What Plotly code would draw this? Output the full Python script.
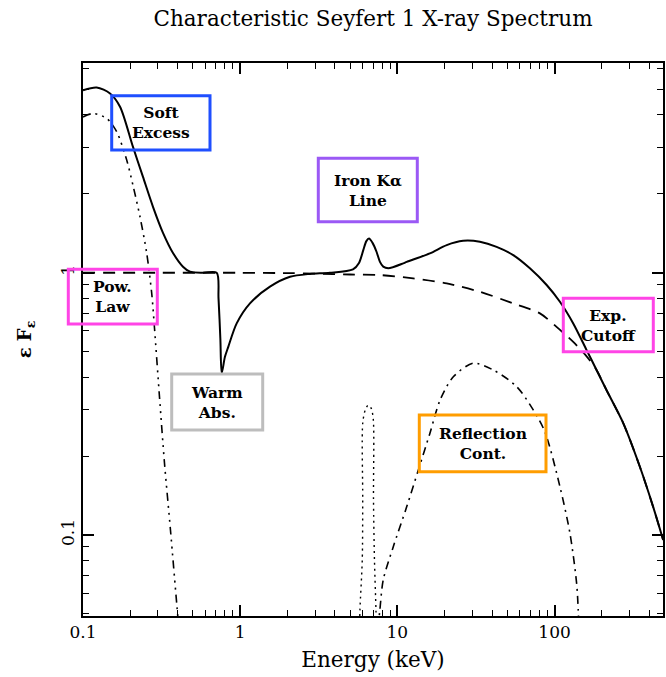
import plotly.graph_objects as go

# ---- Spectral components: energy (keV) vs. eF_e ----
energy_total = [0.1, 0.1222, 0.1486, 0.172, 0.208, 0.2408, 0.2788, 0.3228, 0.3737,
                0.4326, 0.4795, 0.58, 0.7087, 0.728, 0.748, 0.7627, 0.80, 0.84, 0.95,
                1.154, 1.547, 2.075, 2.78, 3.72, 5.22, 5.7, 6.07, 6.35, 6.6, 6.95,
                7.38, 7.75, 8.13, 8.75, 10.9, 11.46, 16.1, 20.6, 26.2, 33.5, 42.8,
                54.6, 69.7, 89.1, 108.2, 131.5, 160, 185, 214, 273.5, 349, 424, 491]
flux_total = [4.97, 5.09, 4.83, 4.30, 3.02, 2.32, 1.785, 1.42, 1.19,
              1.055, 1.01, 1.0, 1.0, 0.80, 0.56, 0.414, 0.478, 0.522, 0.641,
              0.764, 0.885, 0.965, 0.99, 1.0, 1.03, 1.09, 1.22, 1.32, 1.35, 1.3,
              1.2, 1.1, 1.055, 1.04, 1.086, 1.10, 1.186, 1.275, 1.324, 1.313, 1.256,
              1.168, 1.04, 0.898, 0.775, 0.641, 0.507, 0.426, 0.357, 0.267, 0.182, 0.128, 0.0957]

energy_powlaw = [0.1, 0.3, 1, 2, 3, 5, 7.74, 12.6, 20.6, 33.5, 54.6, 80.7, 103, 131.5,
                 160, 185, 214, 273.5, 349, 424, 491]
flux_powlaw = [1.0, 1.0, 1.0, 0.997, 0.993, 0.985, 0.98, 0.952, 0.911, 0.846, 0.764, 0.70,
               0.622, 0.545, 0.48, 0.426, 0.357, 0.267, 0.182, 0.128, 0.0957]

energy_soft = [0.1, 0.1163, 0.1416, 0.1638, 0.1897, 0.2089, 0.2305, 0.2542, 0.2735,
               0.285, 0.3067, 0.3299, 0.3601, 0.3963, 0.408]
flux_soft = [3.93, 4.05, 3.88, 3.45, 2.69, 2.13, 1.635, 1.189, 0.837,
             0.6155, 0.3357, 0.1881, 0.1045, 0.0531, 0.0434]

energy_refl = [7.52, 7.74, 8.13, 9.42, 11.46, 13.6, 16.1, 18.7, 22.7, 30.4, 40.7,
               57.4, 73.2, 86.9, 108.2, 125.3, 138.2, 141.5, 143]
flux_refl = [0.044, 0.0518, 0.0674, 0.0902, 0.128, 0.177, 0.244, 0.327, 0.401, 0.452, 0.426,
             0.368, 0.30, 0.247, 0.153, 0.1015, 0.0654, 0.0518, 0.044]

energy_fe = [5.75, 5.78, 5.98, 6.02, 6.02, 6.25, 6.53, 6.82, 7.03, 7.05, 7.15, 7.31, 7.35]
flux_fe = [0.044, 0.0518, 0.0803, 0.136, 0.267, 0.30, 0.313, 0.304, 0.275, 0.136, 0.0803,
           0.0518, 0.044]

x_tick_vals = [0.1, 1, 10, 100]
x_tick_text = ["0.1", "1", "10", "100"]
y_tick_vals = [0.1, 1]
y_tick_text = ["0.1", "1"]

FONT = "DejaVu Serif"

fig = go.Figure()

def add_line(x, y, dash, width):
    fig.add_trace(go.Scatter(
        x=x, y=y, mode="lines", showlegend=False, hoverinfo="skip",
        line=dict(color="black", width=width, dash=dash, shape="spline", smoothing=0.8),
    ))

add_line(energy_soft, flux_soft, "8px,5px,2px,5px,2px,5px,2px,5px", 1.6)
add_line(energy_powlaw, flux_powlaw, "12px,8px", 1.8)
add_line(energy_refl, flux_refl, "8px,5px,2px,5px", 1.6)
add_line(energy_fe, flux_fe, "2px,4px", 1.4)
add_line(energy_total, flux_total, "solid", 2.0)

# ---- Plot-area geometry (pixels) used to place the labelled boxes ----
W, H = 666, 677
L, R, T, B = 83, 663, 63, 616

def px(xp):
    return (xp - L) / (R - L)

def py(yp):
    return (B - yp) / (B - T)

boxes = [
    ("Soft<br>Excess", (111.7, 95.7, 210, 150), "#1f4fff"),
    ("Pow.<br>Law", (68.3, 269.3, 157.3, 324), "#ff44e6"),
    ("Iron Kα<br>Line", (318.3, 158.3, 417.3, 221.7), "#9b59f5"),
    ("Warm<br>Abs.", (171.7, 374, 262.7, 430), "#bdbdbd"),
    ("Reflection<br>Cont.", (419.3, 415, 546, 471.7), "#ff9d00"),
    ("Exp.<br>Cutoff", (563.3, 298.3, 653.3, 351.7), "#ff44e6"),
]
for text, (x0, y0, x1, y1), color in boxes:
    fig.add_shape(type="rect", xref="paper", yref="paper",
                  x0=px(x0), x1=px(x1), y0=py(y1), y1=py(y0),
                  line=dict(color=color, width=3), fillcolor="rgba(0,0,0,0)")
    fig.add_annotation(xref="paper", yref="paper",
                       x=px((x0 + x1) / 2), y=py((y0 + y1) / 2),
                       text=f"<b>{text}</b>", showarrow=False,
                       xanchor="center", yanchor="middle",
                       font=dict(family=FONT, size=15.5, color="black"))

axis_common = dict(
    type="log", showgrid=False, zeroline=False,
    showline=True, linecolor="black", linewidth=2, mirror="allticks",
    ticks="inside", ticklen=11, tickwidth=1.5, tickcolor="black",
    tickfont=dict(family=FONT, size=17, color="black"),
)

fig.update_xaxes(
    **axis_common,
    range=[-1, 2.69],
    tickvals=x_tick_vals, ticktext=x_tick_text,
    minor=dict(ticks="inside", ticklen=6, tickwidth=1.2, tickcolor="black",
               tickvals=[m * d for d in (0.1, 1, 10, 100) for m in range(2, 10)]),
    title=dict(text="Energy (keV)", font=dict(family=FONT, size=21.5, color="black"), standoff=11),
)
fig.update_yaxes(
    **axis_common,
    range=[-1.309, 0.80],
    tickvals=y_tick_vals, ticktext=y_tick_text, tickangle=-90,
    minor=dict(ticks="inside", ticklen=6, tickwidth=1.2, tickcolor="black",
               tickvals=[m * d for d in (0.01, 0.1, 1) for m in range(2, 10)]),
    title=dict(text="<b>ε F<sub>ε</sub></b>", font=dict(family=FONT, size=18, color="black"), standoff=22),
)

fig.update_layout(
    width=W, height=H,
    margin=dict(l=L, r=W - R, t=T, b=H - B, autoexpand=False),
    paper_bgcolor="white", plot_bgcolor="white",
    title=dict(text="Characteristic Seyfert 1 X-ray Spectrum",
               font=dict(family=FONT, size=21.5, color="black"),
               x=0.5, xref="paper", xanchor="center",
               y=1 - 18 / H, yref="container", yanchor="middle"),
)

fig.write_html("out.html")
